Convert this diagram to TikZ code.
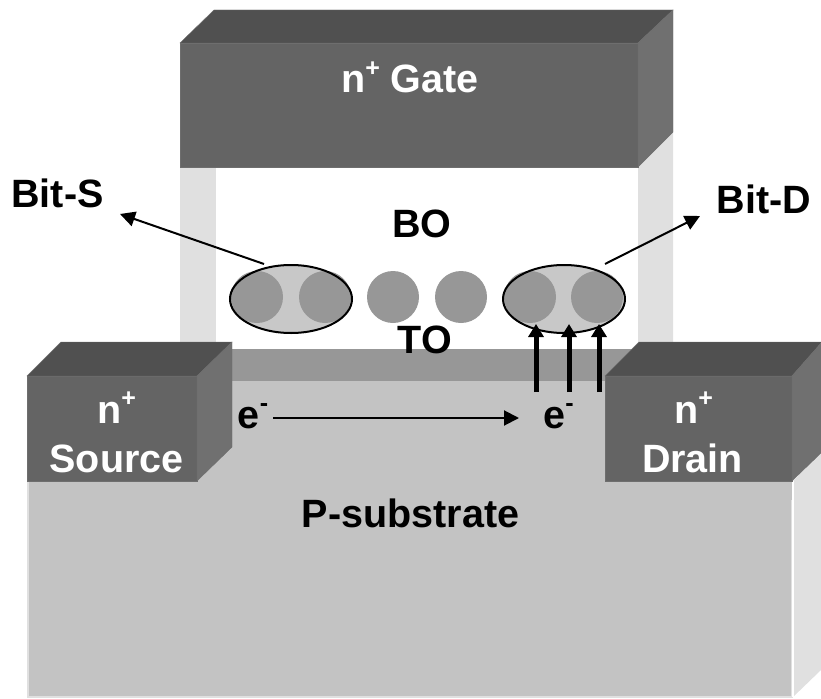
\documentclass[tikz,border=0pt]{standalone}
\usepackage{fontspec}
\setmainfont{Liberation Sans}
\usetikzlibrary{arrows.meta, shapes.geometric, calc, positioning}

\definecolor{topgray}{HTML}{505050}
\definecolor{frontgray}{HTML}{646464}
\definecolor{sidegray}{HTML}{707070}
\definecolor{edgegray}{HTML}{6E6E6E}
\definecolor{subgray}{HTML}{C3C3C3}
\definecolor{paleside}{HTML}{E0E0E0}
\definecolor{oxidegray}{HTML}{979797}
\definecolor{bitgray}{HTML}{C8C8C8}

\newcommand{\upmark}[1]{\raisebox{17pt}{\fontsize{25}{25}\bfseries\selectfont #1}}

\tikzset{
    label text/.style={font=\fontsize{39.5}{44}\bfseries\selectfont, inner sep=0pt, anchor=base},
    white text/.style={label text, text=white},
    trap dot/.style={circle, fill=oxidegray, minimum size=52pt, inner sep=0pt},
    bit fill/.style={ellipse, fill=bitgray, minimum width=122pt, minimum height=68pt, inner sep=0pt},
    bit line/.style={ellipse, draw=black, line width=2pt, minimum width=122pt, minimum height=68pt, inner sep=0pt},
    thin arrow/.style={line width=2pt, -{Triangle[length=15pt, width=15pt]}},
    thick arrow/.style={line width=5pt, -{Triangle[length=13pt, width=15pt]}}
}

\begin{document}
\begin{tikzpicture}[x=1pt, y=-1pt]
    \useasboundingbox (0,0) rectangle (821,698);

    % Draw substrate
    \fill[paleside] (793,481) -- (821,453) -- (821,670) -- (793,697) -- cycle;
    \fill[subgray, draw=paleside, line width=1.5pt] (28,470) rectangle (792,697);
    \fill[subgray] (197,381) rectangle (792,500);
    \draw[white, line width=2pt] (793,481) -- (793,697);

    % Draw spacers and tunnel oxide
    \fill[paleside] (180,167) rectangle (216,349);
    \fill[paleside] (638,167) -- (673,132) -- (673,349) -- (638,349) -- cycle;
    \fill[oxidegray] (197,349) rectangle (640,381);

    % Draw gate
    \fill[frontgray, draw=edgegray] (180,43) rectangle (638,167);
    \fill[topgray, draw=edgegray] (180,43) -- (214,10) -- (673,10) -- (638,43) -- cycle;
    \fill[sidegray, draw=edgegray] (638,43) -- (673,10) -- (673,132) -- (638,167) -- cycle;

    % Draw source
    \fill[frontgray, draw=edgegray] (27,376) rectangle (197,481);
    \fill[topgray, draw=edgegray] (27,376) -- (61,342) -- (232,342) -- (197,376) -- cycle;
    \fill[sidegray, draw=edgegray] (197,376) -- (232,342) -- (232,447) -- (197,481) -- cycle;

    % Draw drain
    \fill[frontgray, draw=edgegray] (605,376) rectangle (792,481);
    \fill[topgray, draw=edgegray] (605,376) -- (639,342) -- (822,342) -- (792,376) -- cycle;
    \fill[sidegray, draw=edgegray] (792,376) -- (822,342) -- (822,452) -- (792,481) -- cycle;

    % Draw stored bits and traps
    \node[bit fill] at (291,299) {};
    \node[bit fill] at (564,299) {};
    \foreach \name/\xpos in {dotA/257, dotB/325, dotC/393, dotD/461, dotE/530, dotF/597}
        \node[trap dot] (\name) at (\xpos,297) {};
    \node[bit line] (bitS) at (291,299) {};
    \node[bit line] (bitD) at (564,299) {};

    % Label regions
    \node[white text] (gate) at (410,93) {n\upmark{+} Gate};
    \node[label text] (bo) at (422,237) {BO};
    \node[label text] (to) at (425,353) {TO};
    \node[label text] (labelS) at (57.5,207) {Bit-S};
    \node[label text] (labelD) at (764,213) {Bit-D};
    \node[white text] (srcn) at (116.5,423) {n\upmark{+}};
    \node[white text] (src) at (116.5,472) {Source};
    \node[white text] (drnn) at (693.5,423) {n\upmark{+}};
    \node[white text] (drn) at (692.5,472) {Drain};
    \node[label text] (eS) at (253,428) {e\upmark{-}};
    \node[label text] (eD) at (558.5,428) {e\upmark{-}};
    \node[label text] (sub) at (410.5,527) {P-substrate};

    % Draw arrows
    \coordinate (tipS) at (120,214);
    \coordinate (tipD) at (700,216);
    \coordinate (startA) at (536,392);
    \coordinate (startB) at (569,392);
    \coordinate (startC) at (599,392);
    \coordinate (endA) at (536,324);
    \coordinate (endB) at (569,324);
    \coordinate (endC) at (599,324);
    \draw[thin arrow] ($(bitS.north)+(-27,0)$) -- (tipS);
    \draw[thin arrow] ($(bitD.north)+(41,0)$) -- (tipD);
    \draw[thin arrow] (273,418) -- (519,418);
    \foreach \a/\b in {startA/endA, startB/endB, startC/endC}
        \draw[thick arrow] (\a) -- (\b);

\end{tikzpicture}
\end{document}
